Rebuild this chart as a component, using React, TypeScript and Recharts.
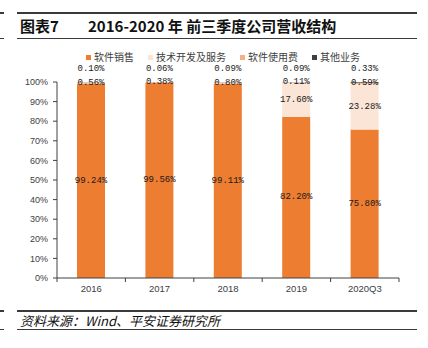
import React from 'react';
import { BarChart, Bar, XAxis, YAxis, LabelList } from 'recharts';

const categories = ['2016', '2017', '2018', '2019', '2020Q3'];
const softwareSales = [99.24, 99.56, 99.11, 82.2, 75.8];
const techServices = [0.56, 0.38, 0.8, 17.6, 23.28];
const softwareFees = [0, 0, 0, 0.11, 0.59];
const otherBiz = [0.1, 0.06, 0.09, 0.09, 0.33];
const yTicks = [0, 10, 20, 30, 40, 50, 60, 70, 80, 90, 100];

const series = [
  { key: 'sales', name: '软件销售', values: softwareSales, color: '#ED7D31' },
  { key: 'tech', name: '技术开发及服务', values: techServices, color: '#FBE5D6' },
  { key: 'fees', name: '软件使用费', values: softwareFees, color: '#F4B183' },
  { key: 'other', name: '其他业务', values: otherBiz, color: '#404040' },
];

const data = categories.map((c, i) => {
  const row: Record<string, string | number> = { name: c };
  series.forEach((s) => (row[s.key] = s.values[i]));
  return row;
});

const W = 428;
const H = 348;
const M = { top: 82, right: 29, bottom: 50, left: 0 };
const Y_W = 57;
const X_H = 20;
const band = (W - Y_W - M.right) / categories.length;

const fmt = (v: number) => v.toFixed(2) + '%';
const labelFont = { fontFamily: '"Liberation Mono", monospace', fontSize: 9, fill: '#1a1a1a' };

// stacked bars may hand over [low, high] instead of the raw value
const readValue = (value: any) => {
  if (Array.isArray(value)) return Math.round((value[1] - value[0]) * 100) / 100;
  return Number(value);
};

const centerLabel = (props: any) => {
  const { x, y, width, height } = props;
  const v = readValue(props.value);
  if (!v) return null;
  return (
    <text x={x + width / 2} y={y + height / 2} textAnchor="middle" dominantBaseline="central" {...labelFont}>
      {fmt(v)}
    </text>
  );
};

const topLabel = (props: any) => {
  const { x, y, width } = props;
  const v = readValue(props.value);
  return (
    <text x={x + width / 2} y={y - 13} textAnchor="middle" dominantBaseline="central" {...labelFont}>
      {fmt(v)}
    </text>
  );
};

const XTick = (props: any) => {
  const { x, y, payload, index } = props;
  const left = x - band / 2;
  return (
    <g>
      <line x1={left} y1={y} x2={left} y2={y + 4} stroke="#404040" />
      {index === categories.length - 1 && (
        <line x1={x + band / 2} y1={y} x2={x + band / 2} y2={y + 4} stroke="#404040" />
      )}
      <text x={x} y={y + 14} textAnchor="middle" fontSize={9.5} fill="#404040" fontFamily="'Liberation Sans', Arial">
        {payload.value}
      </text>
    </g>
  );
};

const rule = (top: number, h = 1.5): React.CSSProperties => ({
  position: 'absolute',
  left: 17,
  width: 400,
  top,
  height: h,
  background: '#3a3a3a',
});
const stub = (top: number): React.CSSProperties => ({
  position: 'absolute',
  left: 0,
  width: 4,
  top,
  height: 1.5,
  background: '#3a3a3a',
});

export default function App() {
  return (
    <div style={{ position: 'absolute', left: 0, top: 0, width: W, height: H, background: '#fff', fontFamily: '"Noto Sans CJK SC", sans-serif' }}>
      <div style={rule(12)} />
      <div style={stub(12)} />
      <div style={rule(37.5, 1.5)} />
      <div style={stub(37.5)} />
      <div style={{ position: 'absolute', left: 20, top: 15, fontSize: 15, fontWeight: 700, color: '#111', whiteSpace: 'nowrap', lineHeight: '21px' }}>
        <span>图表7</span>
        <span style={{ position: 'absolute', left: 68 }}>2016-2020 年 前三季度公司营收结构</span>
      </div>

      <div style={{ position: 'absolute', left: 86, top: 50, display: 'flex', gap: 14, fontSize: 10, color: '#404040', lineHeight: '14px', whiteSpace: 'nowrap' }}>
        {series.map((s) => (
          <div key={s.key} style={{ display: 'flex', alignItems: 'center' }}>
            <span style={{ width: 5, height: 5, background: s.color, marginRight: 3, display: 'inline-block' }} />
            {s.name}
          </div>
        ))}
      </div>

      <BarChart width={W} height={H} data={data} margin={M} barSize={28} style={{ position: 'absolute', left: 0, top: 0 }}>
        <XAxis
          dataKey="name"
          height={X_H}
          tickLine={false}
          tickSize={0}
          tickMargin={0}
          axisLine={{ stroke: '#404040' }}
          tick={<XTick />}
          interval={0}
        />
        <YAxis
          width={Y_W}
          domain={[0, 100]}
          ticks={yTicks}
          tickFormatter={(v: number) => v + '%'}
          tickSize={4}
          tickMargin={5}
          axisLine={{ stroke: '#404040' }}
          tickLine={{ stroke: '#404040' }}
          tick={{ fontSize: 9, fill: '#404040', fontFamily: "'Liberation Sans', Arial" }}
          interval={0}
        />
        {series.map((s, si) => (
          <Bar key={s.key} dataKey={s.key} name={s.name} stackId="a" fill={s.color} isAnimationActive={false}>
            <LabelList dataKey={s.key} content={si === 3 ? topLabel : centerLabel} />
          </Bar>
        ))}
      </BarChart>

      <div style={rule(310)} />
      <div style={stub(310)} />
      <div style={rule(328.5)} />
      <div style={stub(328.5)} />
      <div style={{ position: 'absolute', left: 20, top: 312, fontSize: 13, fontStyle: 'italic', color: '#111', lineHeight: '17px', whiteSpace: 'nowrap' }}>
        资料来源：Wind、平安证券研究所
      </div>
    </div>
  );
}
